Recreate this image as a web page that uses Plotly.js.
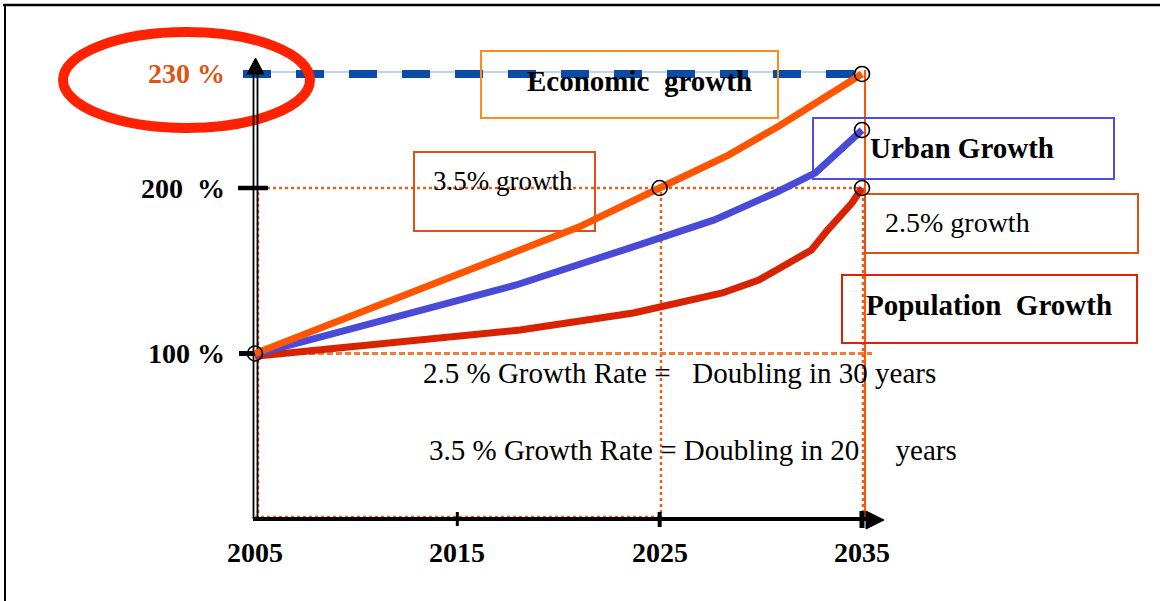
<!DOCTYPE html>
<html>
<head>
<meta charset="utf-8">
<script src="https://cdn.plot.ly/plotly-3.0.1.min.js"></script>
<style>html,body{margin:0;padding:0;background:#fff;}#chart{width:1160px;height:601px;}</style>
</head>
<body>
<div id="chart"></div>
<script>
// ---------- DATA ----------
const econYears  = [2005, 2016.0, 2021.0, 2025, 2028.4, 2030.9, 2035];
const econValues = [100, 152.3, 176.4, 200, 219.9, 237.5, 268.9];

const urbanYears  = [2005, 2017.9, 2023.5, 2027.7, 2030.8, 2032.7, 2035];
const urbanValues = [99.5, 141.4, 163.7, 180.7, 197.6, 209.1, 235.0];

const popYears  = [2005, 2018.1, 2023.7, 2028.1, 2029.9, 2031.4, 2032.5, 2033.3, 2034.5, 2035];
const popValues = [98.3, 114.2, 124.5, 136.6, 144.4, 154.7, 162.5, 174.6, 190.9, 200];

const keyYears  = [2005, 2025, 2035, 2035, 2035];
const keyValues = [100, 200, 268.9, 235.0, 200];

const xTickVals   = [2005, 2015, 2025, 2035];
const xTickLabels = ['2005', '2015', '2025', '2035'];
const yTickVals   = [100, 200, 268.9];
const yTickLabels = ['100 %', '200\u00a0\u00a0%', '230 %'];
const yTickColors = ['#000000', '#000000', '#dd5511'];

// ---------- SCALE (pixel layout of the figure) ----------
const W = 1160, H = 601;
const XPX = 20.233, X0PX = 255;   // px per year, pixel of 2005
const YPX = 1.655,  Y0PX = 519;   // px per unit, pixel of 0
const X = px => 2005 + (px - X0PX) / XPX;
const Y = py => (Y0PX - py) / YPX;

const serif = 'Liberation Serif, Times New Roman, serif';

const traces = [
  {x: popYears, y: popValues, mode: 'lines', line: {color: '#d82200', width: 7}, hoverinfo: 'skip'},
  {x: urbanYears, y: urbanValues, mode: 'lines', line: {color: '#4a4ad8', width: 7}, hoverinfo: 'skip'},
  {x: econYears, y: econValues, mode: 'lines', line: {color: '#ff5500', width: 7}, hoverinfo: 'skip'},
  {x: keyYears, y: keyValues, mode: 'markers',
   marker: {symbol: 'circle-open', size: 15, color: '#000', line: {width: 1.6}}, hoverinfo: 'skip'}
];

const line = (x0, y0, x1, y1, color, width, dash, layer) => ({
  type: 'line', xref: 'x', yref: 'y', x0, y0, x1, y1,
  line: {color, width, dash: dash || 'solid'}, layer: layer || 'below'
});
const rect = (px0, py0, px1, py1, color) => ({
  type: 'rect', xref: 'x', yref: 'y', x0: X(px0), y0: Y(py0), x1: X(px1), y1: Y(py1),
  line: {color, width: 2}, fillcolor: 'rgba(0,0,0,0)', layer: 'below'
});

const topVal = econValues[econValues.length - 1];
const shapes = [
  // outer frame (top and left)
  line(X(3), Y(5), X(1160), Y(5), '#000', 2.5),
  line(X(5), Y(5), X(5), Y(601), '#000', 2),
  // orange dotted guide lines
  line(2005, 200, 2035, 200, '#e8601a', 2.5, 'dot'),
  line(2005, Y(517), 2025, Y(517), '#e8601a', 2.5, 'dot'),
  line(X(258), 0, X(258), 200, '#e8601a', 2.5, 'dot'),
  line(X(661), 0, X(661), 200, '#e8601a', 2.5, 'dot'),
  line(X(863), 0, X(863), 200, '#e8601a', 2.5, 'dot'),
  // dashed 100% line
  line(2005, 100, X(872), 100, '#f07a3a', 3, '6px,3px'),
  // solid orange vertical at 2035
  line(X(865), Y(70), X(865), 0, '#ff5500', 2),
  // light blue thin line + blue dashes at top level
  line(X(243), Y(72), X(860), Y(72), '#a9c4ea', 1.5),
  line(X(243), topVal, 2035, topVal, '#0a4aa8', 8, '28px,25px'),
  // red ellipse
  {type: 'circle', xref: 'x', yref: 'y', x0: X(63), x1: X(310), y0: Y(32), y1: Y(128),
   line: {color: '#ff2200', width: 10}, fillcolor: 'rgba(0,0,0,0)', layer: 'below'},
  // text boxes
  rect(481, 51, 778, 118, '#ff8c1a'),
  rect(414, 152, 595, 231, '#e05010'),
  rect(813, 118, 1114, 179, '#4d4de0'),
  rect(865, 194, 1138, 253, '#e05010'),
  rect(842, 275, 1137, 343, '#dd2200'),
  // y axis (double line) and arrowhead
  line(X(253.5), 0, X(253.5), Y(72), '#000', 1.8),
  line(X(257.5), 0, X(257.5), Y(72), '#000', 1.8),
  {type: 'path', xref: 'x', yref: 'y', layer: 'below',
   path: `M ${X(247)} ${Y(74)} L ${X(255.5)} ${Y(58)} L ${X(264)} ${Y(74)} Z`,
   fillcolor: '#000', line: {color: '#000', width: 1}},
  // y ticks
  line(X(238), 200, X(268), 200, '#000', 4.5),
  line(X(239), 100, X(255), 100, '#000', 5),
  // x axis and arrowhead
  line(X(253), 0, X(870), 0, '#000', 4),
  {type: 'path', xref: 'x', yref: 'y', layer: 'below',
   path: `M ${X(866)} ${Y(511)} L ${X(884)} ${Y(520)} L ${X(866)} ${Y(529)} Z`,
   fillcolor: '#000', line: {color: '#000', width: 1}},
  // x ticks
  line(2015, Y(512), 2015, Y(526), '#000', 3),
  line(2025, Y(512), 2025, Y(527), '#000', 4),
  line(2035, Y(511), 2035, Y(528), '#000', 5)
];

const txt = (text, px, py, size, bold, color, anchor) => ({
  xref: 'x', yref: 'y', x: X(px), y: Y(py), text: bold ? '<b>' + text + '</b>' : text,
  showarrow: false, xanchor: anchor || 'left', yanchor: 'middle',
  font: {family: serif, size, color: color || '#000'}
});

const annotations = [
  txt('Economic\u00a0\u00a0growth', 525, 81, 29, true),
  txt('3.5% growth', 431, 181, 27, false),
  txt('Urban Growth', 868, 148, 29, true),
  txt('2.5% growth', 883, 222, 28, false),
  txt('Population\u00a0\u00a0Growth', 864, 305, 29, true),
  txt('2.5 % Growth Rate =\u00a0\u00a0\u00a0Doubling in 30 years', 421, 373, 29, false),
  txt('3.5 % Growth Rate = Doubling in 20\u00a0\u00a0\u00a0\u00a0\u00a0years', 427, 450, 29, false)
];
// y tick labels
yTickVals.forEach((v, i) => {
  annotations.push({xref: 'x', yref: 'y', x: 2005, y: v, xshift: -28, text: '<b>' + yTickLabels[i] + '</b>',
    showarrow: false, xanchor: 'right', yanchor: 'middle',
    font: {family: serif, size: 28, color: yTickColors[i]}});
});
// x tick labels
xTickVals.forEach((v, i) => {
  annotations.push({xref: 'x', yref: 'y', x: v, y: 0, yshift: -33, text: '<b>' + xTickLabels[i] + '</b>',
    showarrow: false, xanchor: 'center', yanchor: 'middle',
    font: {family: serif, size: 28, color: '#000'}});
});

const layout = {
  width: W, height: H,
  margin: {l: 0, r: 0, t: 0, b: 0},
  paper_bgcolor: '#fff', plot_bgcolor: '#fff',
  showlegend: false,
  xaxis: {range: [X(0), X(W)], visible: false, fixedrange: true},
  yaxis: {range: [Y(H), Y(0)], visible: false, fixedrange: true},
  shapes, annotations
};

Plotly.newPlot('chart', traces, layout, {displayModeBar: false, staticPlot: true});
</script>
</body>
</html>
